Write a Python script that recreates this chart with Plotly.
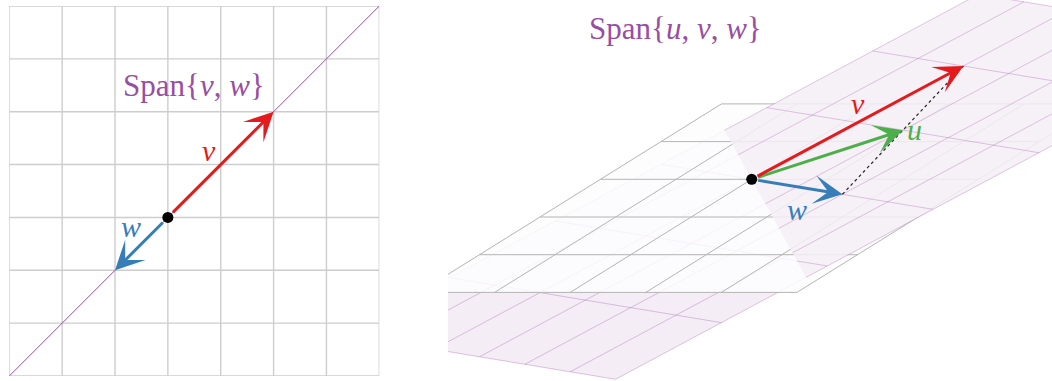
import plotly.graph_objects as go

# ---------------- data ----------------
# left panel: the plane R^2
grid2_ticks = [-3, -2, -1, 0, 1, 2, 3, 4]
v2 = [2, 2]
w2 = [-1, -1]
span2_range = [-3, 4]

# right panel: R^3
v3 = [2.0, 1.0, 1.0]
w3 = [2.0, -1.0, 0.3]
u3 = [2.0, 0.0, 0.65]          # u = (v + w) / 2
gray_x = [-2, -1, 0, 1, 2, 3]
gray_y = [-3, -2, -1, 0, 1, 2]
span_s = [-3, -2, -1, 0, 1, 2, 3]   # grid steps of v/2
span_t = [-2, -1, 0, 1, 2, 3, 4]    # grid steps of w/2

# ---------------- style ----------------
RED = "#e41a1c"
BLUE = "#377eb8"
GREEN = "#4daf4a"
PURPLE = "#984ea3"
FONT = "Liberation Serif"

# oblique projection (screen units = pixels)
EX = (75.6, 0.0)
EY = (60.5, 37.7)
EZ = (0.0, 75.6)


def proj(p):
    x, y, z = p
    return (EX[0] * x + EY[0] * y + EZ[0] * z, EX[1] * x + EY[1] * y + EZ[1] * z)


def plane_pt(s, t):
    return tuple(0.5 * s * v3[k] + 0.5 * t * w3[k] for k in range(3))


def lerp(a, b, r):
    return tuple(a[k] + r * (b[k] - a[k]) for k in range(3))


def clip_poly(pts, f):
    out = []
    n = len(pts)
    for i in range(n):
        a, b = pts[i], pts[(i + 1) % n]
        fa, fb = f(a), f(b)
        if fa >= 0:
            out.append(a)
        if (fa >= 0) != (fb >= 0):
            out.append(lerp(a, b, fa / (fa - fb)))
    return out


def clip_seg(a, b, f):
    fa, fb = f(a), f(b)
    if fa < 0 and fb < 0:
        return None
    if fa >= 0 and fb >= 0:
        return (a, b)
    m = lerp(a, b, fa / (fa - fb))
    return (a, m) if fa >= 0 else (m, b)


def segs_xy(segs):
    xs, ys = [], []
    for a, b in segs:
        pa, pb = proj(a), proj(b)
        xs += [pa[0], pb[0], None]
        ys += [pa[1], pb[1], None]
    return xs, ys


def poly_xy(pts):
    P = [proj(p) for p in pts]
    P.append(P[0])
    return [p[0] for p in P], [p[1] for p in P]


fig = go.Figure()

# ================= LEFT PANEL =================
lo, hi = grid2_ticks[0], grid2_ticks[-1]
gx, gy = [], []
for t in grid2_ticks:
    gx += [t, t, None]
    gy += [lo, hi, None]
    gx += [lo, hi, None]
    gy += [t, t, None]
fig.add_trace(go.Scatter(x=gx, y=gy, mode="lines", line=dict(color="#cdcdcd", width=1.4),
                         hoverinfo="skip", showlegend=False, cliponaxis=False, xaxis="x", yaxis="y"))
fig.add_trace(go.Scatter(x=[span2_range[0] * v2[0] / 2, span2_range[1] * v2[0] / 2],
                         y=[span2_range[0] * v2[1] / 2, span2_range[1] * v2[1] / 2],
                         mode="lines", line=dict(color=PURPLE, width=1),
                         hoverinfo="skip", showlegend=False, xaxis="x", yaxis="y"))
fig.add_trace(go.Scatter(x=[0], y=[0], mode="markers", marker=dict(color="black", size=11),
                         hoverinfo="skip", showlegend=False, cliponaxis=False, xaxis="x", yaxis="y"))

# ================= RIGHT PANEL =================
f_up = lambda p: p[2]
f_dn = lambda p: -p[2]

s0, s1 = span_s[0], span_s[-1]
t0, t1 = span_t[0], span_t[-1]
span_corners = [plane_pt(s0, t0), plane_pt(s1, t0), plane_pt(s1, t1), plane_pt(s0, t1)]
span_lines = [(plane_pt(s, t0), plane_pt(s, t1)) for s in span_s] + \
             [(plane_pt(s0, t), plane_pt(s1, t)) for t in span_t]

gray_corners = [(gray_x[0], gray_y[0], 0), (gray_x[-1], gray_y[0], 0),
                (gray_x[-1], gray_y[-1], 0), (gray_x[0], gray_y[-1], 0)]
gray_lines = [((x, gray_y[0], 0), (x, gray_y[-1], 0)) for x in gray_x] + \
             [((gray_x[0], y, 0), (gray_x[-1], y, 0)) for y in gray_y]


def add_span_half(f, fill, linecol):
    poly = clip_poly(span_corners, f)
    if poly:
        xs, ys = poly_xy(poly)
        fig.add_trace(go.Scatter(x=xs, y=ys, mode="lines", fill="toself", fillcolor=fill,
                                 line=dict(width=0), hoverinfo="skip", showlegend=False,
                                 xaxis="x2", yaxis="y2"))
    segs = [c for c in (clip_seg(a, b, f) for a, b in span_lines) if c]
    xs, ys = segs_xy(segs)
    fig.add_trace(go.Scatter(x=xs, y=ys, mode="lines", line=dict(color=linecol, width=1),
                             hoverinfo="skip", showlegend=False, xaxis="x2", yaxis="y2"))


# purple plane below the gray plane
add_span_half(f_dn, "rgba(152,78,163,0.10)", "rgba(152,78,163,0.32)")

# gray plane (semi-opaque white)
xs, ys = poly_xy(gray_corners)
fig.add_trace(go.Scatter(x=xs, y=ys, mode="lines", fill="toself", fillcolor="rgba(253,253,254,0.86)",
                         line=dict(width=0), hoverinfo="skip", showlegend=False, xaxis="x2", yaxis="y2"))
xs, ys = segs_xy(gray_lines)
fig.add_trace(go.Scatter(x=xs, y=ys, mode="lines", line=dict(color="#b4b4b4", width=1),
                         hoverinfo="skip", showlegend=False, xaxis="x2", yaxis="y2"))

# purple plane above the gray plane
add_span_half(f_up, "rgba(244,237,246,0.86)", "rgba(152,78,163,0.30)")

# dotted line from w to v
pw, pv, pu = proj(w3), proj(v3), proj(u3)
fig.add_trace(go.Scatter(x=[pw[0], pv[0]], y=[pw[1], pv[1]], mode="lines",
                         line=dict(color="rgba(0,0,0,0.85)", width=1.2, dash="dot"),
                         hoverinfo="skip", showlegend=False, xaxis="x2", yaxis="y2"))
o3 = proj((0, 0, 0))
fig.add_trace(go.Scatter(x=[o3[0]], y=[o3[1]], mode="markers", marker=dict(color="black", size=11),
                         hoverinfo="skip", showlegend=False, xaxis="x2", yaxis="y2"))

# ================= ARROWS & LABELS =================
ann = []


def arrow(tip, col, xr, yr):
    ann.append(dict(x=tip[0], y=tip[1], ax=0, ay=0, xref=xr, yref=yr, axref=xr, ayref=yr,
                    text="", showarrow=True, arrowhead=3, arrowsize=1.6, arrowwidth=3,
                    arrowcolor=col, startstandoff=5, standoff=0))


def label(x, y, txt, col, xr, yr, size=30, dx=0, dy=0):
    ann.append(dict(x=x, y=y, xref=xr, yref=yr, text=txt, showarrow=False,
                    font=dict(family=FONT, size=size, color=col), xshift=dx, yshift=dy,
                    xanchor="center", yanchor="middle"))


# left
arrow(v2, RED, "x", "y")
arrow(w2, BLUE, "x", "y")
label(v2[0] / 2, v2[1] / 2, "<i>v</i>", RED, "x", "y", dx=-12, dy=14)
label(w2[0] / 2, w2[1] / 2, "<i>w</i>", BLUE, "x", "y", dx=-10, dy=17)
label(0.5, 2.5, "Span{<i>v</i>, <i>w</i>}", PURPLE, "x", "y", size=31)

# right
arrow(pw, BLUE, "x2", "y2")
arrow(pu, GREEN, "x2", "y2")
arrow(pv, RED, "x2", "y2")
label(pv[0] / 2, pv[1] / 2, "<i>v</i>", RED, "x2", "y2", dy=19)
label(pu[0], pu[1], "<i>u</i>", GREEN, "x2", "y2", dx=12, dy=1)
label(pw[0] / 2, pw[1] / 2, "<i>w</i>", BLUE, "x2", "y2", dy=-23)
label(-76, 151, "Span{<i>u</i>, <i>v</i>, <i>w</i>}", PURPLE, "x2", "y2", size=31)

W, H = 1052, 381
ax_off = dict(showgrid=False, zeroline=False, showticklabels=False, ticks="", showline=False, fixedrange=True)
fig.update_layout(
    width=W, height=H, margin=dict(l=0, r=0, t=0, b=0),
    paper_bgcolor="white", plot_bgcolor="rgba(0,0,0,0)",
    showlegend=False, annotations=ann,
    xaxis=dict(domain=[9.3 / W, 379.3 / W], range=[-3, 4], anchor="y", **ax_off),
    yaxis=dict(domain=[(H - 376) / H, (H - 6) / H], range=[-3, 4], anchor="x", **ax_off),
    xaxis2=dict(domain=[448 / W, 1.0], range=[448 - 751.7, W - 751.7], anchor="y2", **ax_off),
    yaxis2=dict(domain=[0, 1], range=[179.3 - H, 179.3], anchor="x2", **ax_off),
)

fig.write_html("out.html", config={"displayModeBar": False},
               post_script="document.body.style.margin='0px';document.body.style.padding='0px';")
